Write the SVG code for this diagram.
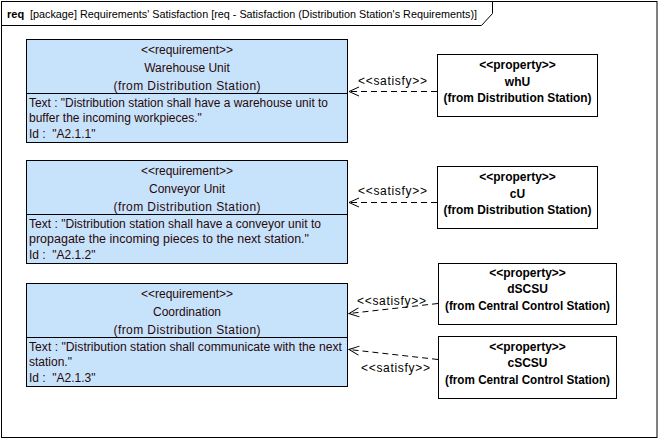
<svg xmlns="http://www.w3.org/2000/svg" width="659" height="440" viewBox="0 0 659 440">
<style>
.frame{fill:#fff;stroke:#000;stroke-width:1}
.req{fill:#c7e3fc;stroke:#000;stroke-width:1}
.prop{fill:#fff;stroke:#000;stroke-width:1}
.sep{stroke:#000;stroke-width:1}
text{font-family:"Liberation Sans",Arial,sans-serif;font-size:12px}
.t{fill:#2a0808}
.c{text-anchor:middle}
.b{font-weight:bold;font-size:12px;fill:#000}
.dash{fill:none;stroke:#000;stroke-width:1;stroke-dasharray:6,4}
.lbl{fill:#000;font-size:12px}
</style>
<defs>
<marker id="open" viewBox="0 0 12 12" refX="11" refY="6" markerWidth="12" markerHeight="12" markerUnits="userSpaceOnUse" orient="auto">
<path d="M1,1.5 L11,6 L1,10.5" fill="none" stroke="#000" stroke-width="1"/>
</marker>
</defs>
<rect width="659" height="440" fill="#fff"/>
<g id="frame">
<rect class="frame" x="1.5" y="1.5" width="655.5" height="436"/>
<path d="M1.5,25.5 H481.5 L492.5,13.5 V1.5" fill="none" stroke="#000"/>
<text x="7" y="18" style="font-weight:bold;font-size:11px">req</text>
<text x="30" y="18" style="font-size:11px" textLength="447" lengthAdjust="spacingAndGlyphs">[package] Requirements' Satisfaction [req - Satisfaction (Distribution Station's Requirements)]</text>
</g>
<g id="req-warehouse">
<rect class="req" x="26.5" y="39.5" width="321" height="103"/>
<line class="sep" x1="26.5" y1="93.5" x2="347.5" y2="93.5"/>
<text class="t c" x="187" y="54">&lt;&lt;requirement&gt;&gt;</text>
<text class="t c" x="187" y="72">Warehouse Unit</text>
<text class="t c" x="187" y="90" textLength="147">(from Distribution Station)</text>
<text class="t" x="29" y="107" textLength="299" lengthAdjust="spacingAndGlyphs">Text : "Distribution station shall have a warehouse unit to</text>
<text class="t" x="29" y="122">buffer the incoming workpieces."</text>
<text class="t" x="29" y="138" xml:space="preserve">Id :  "A2.1.1"</text>
</g>
<g id="req-conveyor">
<rect class="req" x="26.5" y="160.5" width="321" height="103"/>
<line class="sep" x1="26.5" y1="214.5" x2="347.5" y2="214.5"/>
<text class="t c" x="187" y="175">&lt;&lt;requirement&gt;&gt;</text>
<text class="t c" x="187" y="193">Conveyor Unit</text>
<text class="t c" x="187" y="211" textLength="147">(from Distribution Station)</text>
<text class="t" x="29" y="228" textLength="292" lengthAdjust="spacingAndGlyphs">Text : "Distribution station shall have a conveyor unit to</text>
<text class="t" x="29" y="243" textLength="280" lengthAdjust="spacingAndGlyphs">propagate the incoming pieces to the next station."</text>
<text class="t" x="29" y="259" xml:space="preserve">Id :  "A2.1.2"</text>
</g>
<g id="req-coordination">
<rect class="req" x="26.5" y="283.5" width="321" height="103"/>
<line class="sep" x1="26.5" y1="337.5" x2="347.5" y2="337.5"/>
<text class="t c" x="187" y="298">&lt;&lt;requirement&gt;&gt;</text>
<text class="t c" x="187" y="316">Coordination</text>
<text class="t c" x="187" y="334" textLength="147">(from Distribution Station)</text>
<text class="t" x="29" y="351" textLength="313" lengthAdjust="spacingAndGlyphs">Text : "Distribution station shall communicate with the next</text>
<text class="t" x="29" y="366">station."</text>
<text class="t" x="29" y="382" xml:space="preserve">Id :  "A2.1.3"</text>
</g>
<g id="prop-whU">
<rect class="prop" x="437.5" y="54.5" width="160" height="62"/>
<text class="b c" x="517.5" y="69">&lt;&lt;property&gt;&gt;</text>
<text class="b c" x="517.5" y="86">whU</text>
<text class="b c" x="517.5" y="102" textLength="148" lengthAdjust="spacingAndGlyphs">(from Distribution Station)</text>
</g>
<g id="prop-cU">
<rect class="prop" x="437.5" y="166.5" width="160" height="62"/>
<text class="b c" x="517.5" y="181">&lt;&lt;property&gt;&gt;</text>
<text class="b c" x="517.5" y="198">cU</text>
<text class="b c" x="517.5" y="214" textLength="148" lengthAdjust="spacingAndGlyphs">(from Distribution Station)</text>
</g>
<g id="prop-dSCSU">
<rect class="prop" x="438.5" y="263.5" width="178" height="61"/>
<text class="b c" x="527.5" y="277">&lt;&lt;property&gt;&gt;</text>
<text class="b c" x="527.5" y="293">dSCSU</text>
<text class="b c" x="527.5" y="310" textLength="165" lengthAdjust="spacingAndGlyphs">(from Central Control Station)</text>
</g>
<g id="prop-cSCSU">
<rect class="prop" x="438.5" y="336.5" width="178" height="62"/>
<text class="b c" x="527.5" y="351">&lt;&lt;property&gt;&gt;</text>
<text class="b c" x="527.5" y="367">cSCSU</text>
<text class="b c" x="527.5" y="384" textLength="165" lengthAdjust="spacingAndGlyphs">(from Central Control Station)</text>
</g>
<g id="connectors">
<path class="dash" d="M437,91.5 L349,91.5" marker-end="url(#open)"/>
<text class="lbl" x="358" y="85" textLength="69">&lt;&lt;satisfy&gt;&gt;</text>
<path class="dash" d="M437,202.5 L349,202.5" marker-end="url(#open)"/>
<text class="lbl" x="358" y="195" textLength="69">&lt;&lt;satisfy&gt;&gt;</text>
<path class="dash" d="M438,303.5 L349,313.5" marker-end="url(#open)"/>
<text class="lbl" x="357" y="305" textLength="69">&lt;&lt;satisfy&gt;&gt;</text>
<path class="dash" d="M438,359.5 L349,349.5" marker-end="url(#open)"/>
<text class="lbl" x="361" y="372" textLength="69">&lt;&lt;satisfy&gt;&gt;</text>
</g>
</svg>
